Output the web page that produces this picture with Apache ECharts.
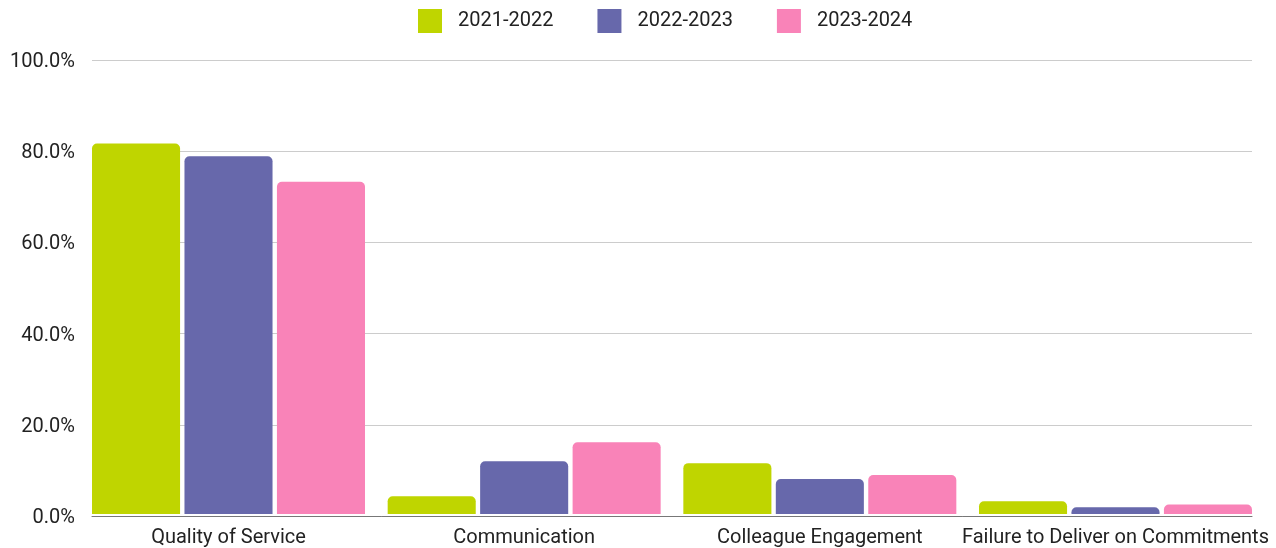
<!DOCTYPE html>
<html>
<head>
<meta charset="utf-8">
<script src="https://cdn.jsdelivr.net/npm/echarts@6/dist/echarts.min.js"></script>
<style>html,body{margin:0;padding:0;background:#fff;}#c{width:1276px;height:548px;}</style>
</head>
<body>
<div id="c"></div>
<script>
const categories = ["Quality of Service", "Communication", "Colleague Engagement", "Failure to Deliver on Commitments"];
const seriesNames = ["2021-2022", "2022-2023", "2023-2024"];
const s2122 = [81.6, 3.9, 11.2, 2.8];
const s2223 = [78.8, 11.6, 7.7, 1.5];
const s2324 = [73.2, 15.8, 8.6, 2.1];
const yTicks = [0, 20, 40, 60, 80, 100];
const colors = ["#bfd500", "#6768ab", "#f983b8"];

const chart = echarts.init(document.getElementById('c'));
const font = 'Roboto, "Noto Sans", sans-serif';
const mk = (name, data, i) => ({
  name, type: 'bar', data, xAxisIndex: 1, yAxisIndex: 1,
  barGap: '5%', barCategoryGap: '7.67%',
  itemStyle: { color: colors[i], borderRadius: [5, 5, 0, 0] }
});
chart.setOption({
  animation: false,
  textStyle: { fontFamily: font },
  legend: {
    top: 9, left: 418, padding: 0, itemWidth: 24, itemHeight: 24, itemGap: 44,
    icon: 'rect',
    textStyle: { fontSize: 20, color: '#222', fontFamily: font, padding: [0, 0, 0, 11] },
    data: seriesNames
  },
  grid: [
    { left: 92, right: 24, top: 60, bottom: 32 },
    { left: 80.67, right: 12.67, top: 60, bottom: 32 }
  ],
  xAxis: [
    { type: 'category', gridIndex: 0, data: categories,
      axisLine: { lineStyle: { color: '#777', width: 1 } }, axisTick: { show: false }, axisLabel: { show: false } },
    { type: 'category', gridIndex: 1, data: categories,
      axisLine: { show: false }, axisTick: { show: false },
      axisLabel: { interval: 0, fontSize: 20, color: '#222', margin: 14, fontFamily: font } }
  ],
  yAxis: [
    { type: 'value', gridIndex: 0, min: yTicks[0], max: yTicks[yTicks.length - 1], interval: 20,
      axisLine: { show: false }, axisTick: { show: false },
      splitLine: { lineStyle: { color: '#cccccc', width: 1 } },
      axisLabel: { margin: 17, formatter: v => '{a|' + v.toFixed(1) + '%}',
        rich: { a: { fontSize: 20, color: '#222', fontFamily: font, padding: [4, 0, 0, 0] } } } },
    { type: 'value', gridIndex: 1, min: 0, max: 100, show: false }
  ],
  series: [mk(seriesNames[0], s2122, 0), mk(seriesNames[1], s2223, 1), mk(seriesNames[2], s2324, 2)]
});
</script>
</body>
</html>
